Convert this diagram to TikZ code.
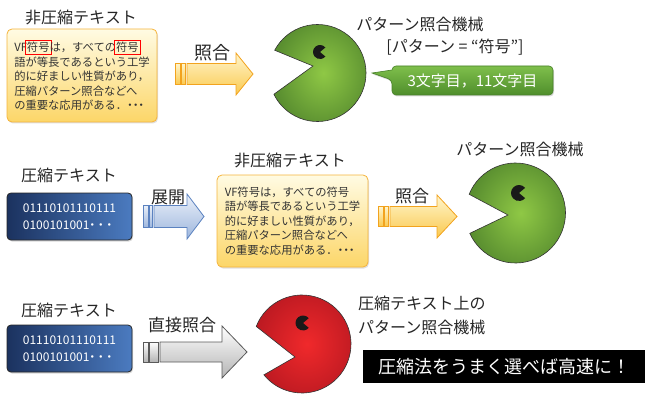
\documentclass[tikz,border=0pt]{standalone}
\usepackage{fontspec}
\setmainfont{Noto Sans CJK JP}
\newfontfamily\narrowpunct{Noto Sans CJK JP}[RawFeature=+halt]
\usetikzlibrary{calc,shadows}

\definecolor{memotop}{HTML}{FFFBE3}
\definecolor{memobot}{HTML}{FCD668}
\definecolor{memoedge}{HTML}{F5B43C}
\definecolor{memotext}{HTML}{333333}
\definecolor{bintop}{HTML}{1B325F}
\definecolor{binbot}{HTML}{4B7BC0}
\definecolor{yarrtop}{HTML}{FFF5CC}
\definecolor{yarrbot}{HTML}{FAC94E}
\definecolor{yarredge}{HTML}{F2A31E}
\definecolor{barrtop}{HTML}{EAF0F9}
\definecolor{barrbot}{HTML}{9DB6DD}
\definecolor{barredge}{HTML}{5B82C0}
\definecolor{garrbot}{HTML}{B4B4B4}
\definecolor{garredge}{HTML}{5A5A5A}
\definecolor{pacgin}{HTML}{8FC845}
\definecolor{pacgout}{HTML}{5A8F30}
\definecolor{pacrin}{HTML}{F0292B}
\definecolor{pacrout}{HTML}{BE1A22}
\definecolor{calltop}{HTML}{7FBF4B}
\definecolor{callbot}{HTML}{4F8E2C}

% frame around a matched word
\newcommand{\hit}[1]{\kern-2pt{\color{red}\fboxsep=1.2pt\fboxrule=0.8pt\fbox{\color{memotext}#1}}\kern-2pt}
% trailing dots, narrow ones in the memo, looser ones after the bits
\newcommand{\memodots}{{\narrowpunct ・・・}}
\newcommand{\bitdots}{{\narrowpunct ・\kern2.5pt・\kern2.5pt・}}

% block arrow with two bars in front: style, bar x, body x, head x, tip x, y, body half, head half
\newcommand{\flowarrow}[8]{%
  \shadedraw[#1] (#2,{#6+#7}) rectangle ({#2+5},{#6-#7});
  \shadedraw[#1] ({#2+6.5},{#6+#7}) rectangle ({#3-1.5},{#6-#7});
  \shadedraw[#1] (#3,{#6+#7}) -- (#4,{#6+#7}) -- (#4,{#6+#8}) -- (#5,#6)
    -- (#4,{#6-#8}) -- (#4,{#6-#7}) -- (#3,{#6-#7}) -- cycle;
}

\begin{document}
\begin{tikzpicture}[x=1pt,y=1pt,
  title/.style={font=\fontsize{16}{18}\selectfont, text=black!85, inner sep=0pt},
  label/.style={font=\fontsize{17}{19}\selectfont, text=black!85, inner sep=0pt},
  memo/.style={draw=memoedge, line width=0.8pt, rounded corners=5pt,
    top color=memotop, bottom color=memobot, text=memotext, align=left,
    font=\fontsize{11.3}{14.6}\selectfont, inner sep=0pt,
    drop shadow={opacity=0.25, shadow xshift=1pt, shadow yshift=-1.5pt}},
  bits/.style={draw=black!85, line width=0.8pt, rounded corners=4pt,
    left color=bintop, right color=binbot, text=white, align=left,
    font=\fontsize{12}{16.5}\selectfont, minimum width=125pt, minimum height=47pt,
    drop shadow={opacity=0.3, shadow xshift=1pt, shadow yshift=-1.5pt}},
  yarrow/.style={draw=yarredge, line width=0.8pt, top color=yarrtop, bottom color=yarrbot},
  barrow/.style={draw=barredge, line width=0.8pt, top color=barrtop, bottom color=barrbot},
  garrow/.style={draw=garredge, line width=0.8pt, top color=white, bottom color=garrbot},
  eye/.style={fill=black!90}
]
\useasboundingbox (0,0) rectangle (646,-396);

% row 1: plain text against a pattern matcher
\node[title] (t1) at (81,-17) {非圧縮テキスト};
\node[memo, minimum width=150pt, minimum height=93pt] (m1) at (82,-75.5)
  {VF\hit{符号}は，すべての\hit{符号}\\語が等長であるという工学\\的に好ましい性質があり，\\圧縮パターン照合などへ\\の重要な応用がある．\memodots};
\flowarrow{yarrow}{175}{187}{236}{253}{-74}{10.5}{21}
\node[label, font=\fontsize{18}{20}\selectfont] (l1) at (212,-53) {照合};

\coordinate (pm1) at (317.5,-73);
\shadedraw[inner color=pacgin, outer color=pacgout, draw=black!80, line width=0.6pt]
  (313,-66) -- ([shift={(152:48.5)}]pm1) arc[start angle=152, end angle=-154, radius=48.5] -- cycle;
\fill[eye] (320,-52) -- ++(40:7) arc[start angle=40, end angle=320, radius=7] -- cycle;
\node[title] (p1) at (420,-24) {パターン照合機械};
\node[title] (q1) at (455,-47) {[パターン = “符号”]};

\shadedraw[draw=callbot!90!black, line width=0.6pt, top color=calltop, bottom color=callbot,
  rounded corners=4pt, drop shadow={opacity=0.3, shadow xshift=1pt, shadow yshift=-1.5pt}]
  (392,-66) -- (553,-66) -- (553,-95) -- (392,-95) -- (392,-80)
  [sharp corners] -- (372,-73) -- (392,-70) [rounded corners=4pt] -- cycle;
\node[text=white, font=\fontsize{15}{17}\selectfont, inner sep=0pt] (hits) at (472.5,-81) {3文字目，11文字目};

% row 2: decompress first, then match
\node[title] (t2) at (69,-175) {圧縮テキスト};
\node[bits] (b2) at (69.5,-216.5) {01110101110111\\0100101001\bitdots};
\flowarrow{barrow}{143}{154}{187}{204}{-216.5}{11}{22.5}
\node[label] (l2) at (168,-197) {展開};

\node[title] (t3) at (290,-160) {非圧縮テキスト};
\node[memo, minimum width=151pt, minimum height=92pt] (m2) at (292.5,-221)
  {VF符号は，すべての符号\\語が等長であるという工学\\的に好ましい性質があり，\\圧縮パターン照合などへ\\の重要な応用がある．\memodots};
\flowarrow{yarrow}{378}{390}{437}{457}{-216.5}{10}{21.5}
\node[label] (l3) at (412,-196) {照合};

\coordinate (pm2) at (515.5,-213);
\shadedraw[inner color=pacgin, outer color=pacgout, draw=black!80, line width=0.6pt]
  (508,-215) -- ([shift={(158:50)}]pm2) arc[start angle=158, end angle=-156, radius=50] -- cycle;
\fill[eye] (519,-193) -- ++(40:8) arc[start angle=40, end angle=320, radius=8] -- cycle;
\node[title] (p2) at (520,-149) {パターン照合機械};

% row 3: match directly on the compressed text
\node[title] (t4) at (69,-310) {圧縮テキスト};
\node[bits] (b3) at (69.5,-348.5) {01110101110111\\0100101001\bitdots};
\flowarrow{garrow}{143}{160}{222}{247}{-352}{10}{26}
\node[label] (l4) at (182,-325) {直接照合};

\coordinate (pm3) at (302,-344);
\shadedraw[inner color=pacrin, outer color=pacrout, draw=black!80, line width=0.6pt]
  (295,-357) -- ([shift={(159:49)}]pm3) arc[start angle=159, end angle=-141, radius=49] -- cycle;
\fill[eye] (303,-323) -- ++(40:7.5) arc[start angle=40, end angle=320, radius=7.5] -- cycle;
\node[title, anchor=west, align=left, font=\fontsize{16}{24}\selectfont] (p3) at (358,-315)
  {圧縮テキスト上の\\パターン照合機械};

\node[fill=black, text=white, font=\fontsize{18}{20}\selectfont, minimum width=282pt,
  minimum height=33pt, inner sep=0pt] (msg) at (504,-366.5) {圧縮法をうまく選べば高速に！};
\end{tikzpicture}
\end{document}
